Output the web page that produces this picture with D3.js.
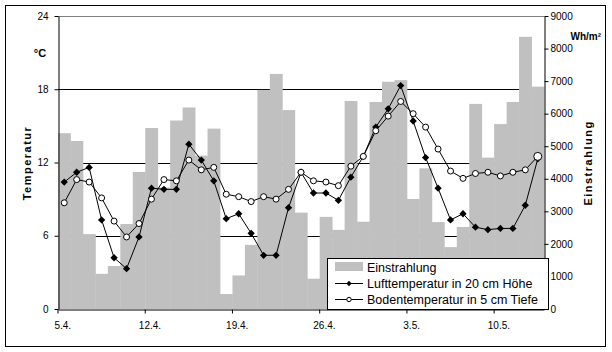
<!DOCTYPE html>
<html><head><meta charset="utf-8">
<script src="https://cdn.jsdelivr.net/npm/d3@7"></script>
<style>
body{margin:0;background:#fff;}
text{font-family:"Liberation Sans",Arial,sans-serif;}
</style></head>
<body><svg id="c" width="612" height="352"></svg>
<script>
const categories = ["5.4.","6.4.","7.4.","8.4.","9.4.","10.4.","11.4.","12.4.","13.4.","14.4.","15.4.","16.4.","17.4.","18.4.","19.4.","20.4.","21.4.","22.4.","23.4.","24.4.","25.4.","26.4.","27.4.","28.4.","29.4.","30.4.","1.5.","2.5.","3.5.","4.5.","5.5.","6.5.","7.5.","8.5.","9.5.","10.5.","11.5.","12.5.","13.5."];
const tickLabels = ["5.4.","12.4.","19.4.","26.4.","3.5.","10.5."];
const einstrahlung = [5400,5160,2300,1080,1320,2610,4210,5560,3730,5790,6190,4710,5540,460,1030,1970,6730,7220,6110,2960,930,2830,2430,6390,2680,6360,6980,7030,3380,4320,2670,1900,2520,6300,4650,5680,6360,8360,6830];
const lufttemperatur = [10.4,11.2,11.6,7.3,4.2,3.3,5.9,9.9,9.8,9.8,13.5,12.2,10.5,7.4,7.8,6.2,4.4,4.4,8.3,11.2,9.5,9.5,8.9,10.8,12.5,14.9,16.4,18.3,15.4,12.4,9.9,7.3,7.8,6.7,6.5,6.6,6.6,8.5,12.3];
const bodentemperatur = [8.7,10.6,10.4,9.1,7.2,5.9,7.0,9.0,10.6,10.5,12.2,11.4,11.6,9.4,9.2,8.8,9.2,9.0,9.8,11.2,10.5,10.4,10.1,11.7,12.5,14.6,15.8,17.0,16.0,14.9,13.1,11.3,10.7,11.1,11.2,10.9,11.2,11.4,12.5];
const tempTicks = [0,6,12,18,24];
const radTicks = [0,1000,2000,3000,4000,5000,6000,7000,8000,9000];
const legendLabels = ["Einstrahlung","Lufttemperatur in 20 cm Höhe","Bodentemperatur in 5 cm Tiefe"];

const svg = d3.select("#c");
const L=58, R=544, T=16, B=309;
const x = d3.scaleBand().domain(categories).range([L,R]).padding(0);
const yT = d3.scaleLinear().domain([0,24]).range([B,T]);
const yE = d3.scaleLinear().domain([0,9000]).range([B,T]);

svg.append("rect").attr("x",0).attr("y",0).attr("width",612).attr("height",352).attr("fill","#fff");
svg.append("rect").attr("x",5.5).attr("y",5.5).attr("width",600).attr("height",341)
  .attr("fill","none").attr("stroke","#000").attr("stroke-width",1);

// gridlines
svg.append("g").selectAll("line").data([6,12,18]).join("line")
  .attr("x1",L).attr("x2",R).attr("y1",d=>Math.round(yT(d))+0.5).attr("y2",d=>Math.round(yT(d))+0.5)
  .attr("stroke","#000").attr("stroke-width",1);

// bars
svg.append("g").selectAll("rect").data(einstrahlung).join("rect")
  .attr("x",(d,i)=>x(categories[i])).attr("width",x.bandwidth()+0.4)
  .attr("y",d=>yE(d)).attr("height",d=>B-yE(d)).attr("fill","#c0c0c0");

// top border of plot
svg.append("line").attr("x1",L).attr("x2",R).attr("y1",T+0.5).attr("y2",T+0.5).attr("stroke","#808080");

// axes
const fmt = d3.format("d");
const gl = svg.append("g").attr("transform",`translate(${L+0.5},0)`)
  .call(d3.axisLeft(yT).tickValues(tempTicks).tickSize(4).tickSizeOuter(0).tickPadding(6));
const gr = svg.append("g").attr("transform",`translate(${R+0.5},0)`)
  .call(d3.axisRight(yE).tickValues(radTicks).tickFormat(fmt).tickSize(4).tickSizeOuter(0).tickPadding(2));
const gb = svg.append("g").attr("transform",`translate(0,${B+0.5})`)
  .call(d3.axisBottom(x).tickValues(tickLabels).tickSize(4).tickSizeOuter(0).tickPadding(8));
gb.selectAll(".tick line").attr("x1",-x.bandwidth()/2).attr("x2",-x.bandwidth()/2);
gb.selectAll(".tick text").attr("x",-1.5);
[gl,gr,gb].forEach(g=>{
  g.selectAll("text").attr("font-size",10).attr("font-family","Liberation Sans, Arial, sans-serif").attr("fill","#000");
  g.selectAll("line,path").attr("stroke","#000");
});

// axis titles
svg.append("text").attr("x",40).attr("y",57).attr("text-anchor","middle")
  .attr("font-size",11).attr("font-weight","bold").text("°C");
svg.append("text").attr("transform","translate(31,163) rotate(-90)").attr("text-anchor","middle")
  .attr("font-size",11).attr("font-weight","bold").attr("letter-spacing",1.5).text("Temperatur");
svg.append("text").attr("x",601).attr("y",40).attr("text-anchor","end")
  .attr("font-size",10).attr("font-weight","bold").text("Wh/m²");
svg.append("text").attr("transform","translate(592,163) rotate(-90)").attr("text-anchor","middle")
  .attr("font-size",11).attr("font-weight","bold").attr("letter-spacing",1.5).text("Einstrahlung");

// lines
const cx = i => x(categories[i]) + x.bandwidth()/2;
const line = d3.line().x((d,i)=>cx(i)).y(d=>yT(d));
svg.append("path").datum(lufttemperatur).attr("d",line).attr("fill","none").attr("stroke","#000").attr("stroke-width",1);
svg.append("path").datum(bodentemperatur).attr("d",line).attr("fill","none").attr("stroke","#000").attr("stroke-width",1);
const diamond = d3.symbol().type(d3.symbolDiamond2).size(34);
svg.append("g").selectAll("path").data(lufttemperatur).join("path")
  .attr("transform",(d,i)=>`translate(${cx(i)},${yT(d)})`).attr("d",diamond).attr("fill","#000");
svg.append("g").selectAll("circle").data(bodentemperatur).join("circle")
  .attr("cx",(d,i)=>cx(i)).attr("cy",d=>yT(d)).attr("r",(d,i)=>i===bodentemperatur.length-1?4:3)
  .attr("fill","#fff").attr("stroke","#000").attr("stroke-width",1);

// legend
const lg = svg.append("g");
lg.append("rect").attr("x",327.5).attr("y",258.5).attr("width",221).attr("height",51)
  .attr("fill","#fff").attr("stroke","#000");
const rows=[267,283,299];
lg.append("rect").attr("x",335).attr("y",262).attr("width",28).attr("height",9).attr("fill","#c0c0c0");
lg.append("line").attr("x1",335).attr("x2",363).attr("y1",rows[1]+0.5).attr("y2",rows[1]+0.5).attr("stroke","#000");
lg.append("path").attr("transform",`translate(349,${rows[1]+0.5})`).attr("d",d3.symbol().type(d3.symbolDiamond2).size(18)).attr("fill","#000");
lg.append("line").attr("x1",335).attr("x2",363).attr("y1",rows[2]+0.5).attr("y2",rows[2]+0.5).attr("stroke","#000");
lg.append("circle").attr("cx",349).attr("cy",rows[2]+0.5).attr("r",2.2).attr("fill","#fff").attr("stroke","#000");
lg.selectAll("text.lt").data(legendLabels).join("text").attr("class","lt")
  .attr("x",367).attr("y",(d,i)=>rows[i]+4.5).attr("font-size",12.5).text(d=>d);
</script></body></html>
